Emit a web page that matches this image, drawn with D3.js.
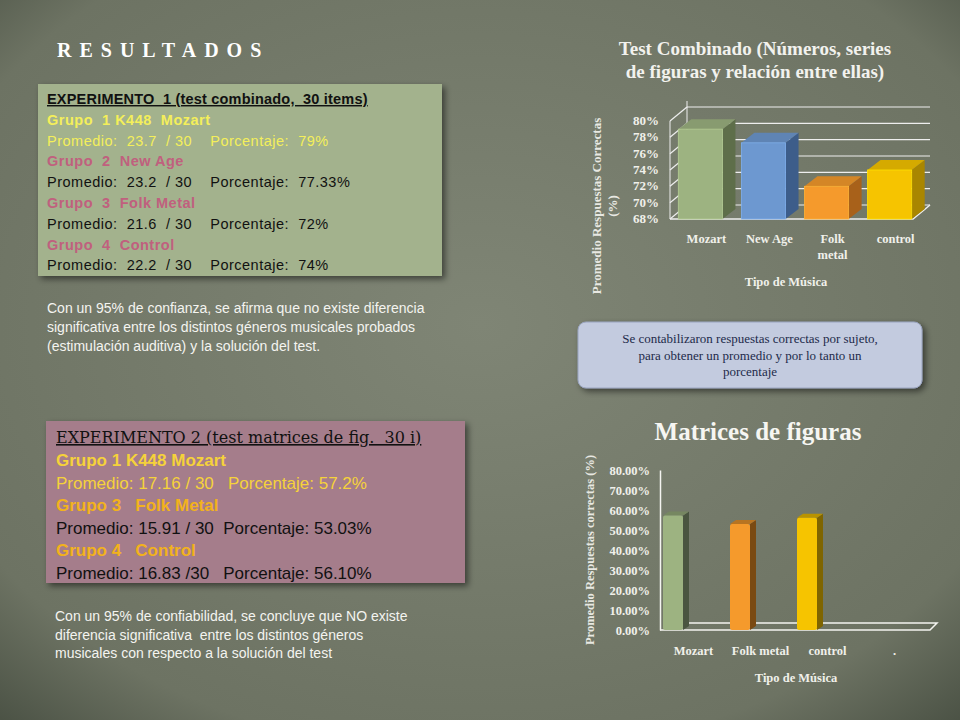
<!DOCTYPE html>
<html>
<head>
<meta charset="utf-8">
<script src="https://cdn.jsdelivr.net/npm/d3@7"></script>
<style>
  body { margin: 0; width: 960px; height: 720px; overflow: hidden; }
  svg text { font-family: 'Liberation Serif', 'DejaVu Serif', serif; }
  svg text.sans { font-family: 'Liberation Sans', Arial, sans-serif; }
  svg text.wide { font-family: 'DejaVu Serif', serif; }
</style>
</head>
<body>
<svg id="slide" width="960" height="720"></svg>
<script>
// top chart: Test Combinado
const comboCats = ['Mozart', 'New Age', 'Folk|metal', 'control'];
const comboValues = [79, 77.33, 72, 74];
const comboTicks = [68, 70, 72, 74, 76, 78, 80];
const comboColors = [['#9db381', '#5e6e4a'], ['#6d98d0', '#3d5d8a'], ['#f59a2c', '#a8611a'], ['#f6c400', '#a98600']];

// bottom chart: Matrices de figuras
const matCats = ['Mozart', 'Folk metal', 'control', '.'];
const matValues = [57.2, 53.03, 56.10, null];
const matTicks = [0, 10, 20, 30, 40, 50, 60, 70, 80];
const matColors = [['#9db381', '#4a5540'], ['#f59a2c', '#7a4a12'], ['#f6c400', '#7f6500'], ['#888', '#555']];

const exp1Lines = [
  { t: 'EXPERIMENTO  1 (test combinado,  30 items)', c: '#111', b: true, u: true },
  { t: 'Grupo  1 K448  Mozart', c: '#f4ef5a', b: true },
  { t: 'Promedio:  23.7  / 30    Porcentaje:  79%', c: '#f4ef5a' },
  { t: 'Grupo  2  New Age', c: '#c0607e', b: true },
  { t: 'Promedio:  23.2  / 30    Porcentaje:  77.33%', c: '#111' },
  { t: 'Grupo  3  Folk Metal', c: '#c0607e', b: true },
  { t: 'Promedio:  21.6  / 30    Porcentaje:  72%', c: '#111' },
  { t: 'Grupo  4  Control', c: '#c0607e', b: true },
  { t: 'Promedio:  22.2  / 30    Porcentaje:  74%', c: '#111' }
];
const exp2Lines = [
  { t: 'Grupo 1 K448 Mozart', c: '#f5d23a', b: true },
  { t: 'Promedio: 17.16 / 30   Porcentaje: 57.2%', c: '#f5d23a' },
  { t: 'Grupo 3   Folk Metal', c: '#f2b21c', b: true },
  { t: 'Promedio: 15.91 / 30  Porcentaje: 53.03%', c: '#111' },
  { t: 'Grupo 4   Control', c: '#f2b21c', b: true },
  { t: 'Promedio: 16.83 /30   Porcentaje: 56.10%', c: '#111' }
];

const svg = d3.select('#slide');
const defs = svg.append('defs');
const bg = defs.append('radialGradient').attr('id', 'bg').attr('cx', '50%').attr('cy', '45%').attr('r', '75%');
bg.append('stop').attr('offset', '0%').attr('stop-color', '#7f8575');
bg.append('stop').attr('offset', '80%').attr('stop-color', '#6d7363');
bg.append('stop').attr('offset', '100%').attr('stop-color', '#4a5144');
svg.append('rect').attr('width', 960).attr('height', 720).attr('fill', 'url(#bg)');
const sh = defs.append('filter').attr('id', 'shadow').attr('x', '-5%').attr('y', '-5%').attr('width', '115%').attr('height', '120%');
sh.append('feDropShadow').attr('dx', 3).attr('dy', 3).attr('stdDeviation', 3).attr('flood-opacity', 0.5);

// left column
svg.append('text').attr('x', 57).attr('y', 57).attr('fill', '#fff').attr('font-size', 20)
  .attr('font-weight', 'bold').attr('letter-spacing', 8).text('RESULTADOS');

svg.append('rect').attr('x', 38).attr('y', 84).attr('width', 404).attr('height', 192)
  .attr('fill', '#a3b28d').attr('filter', 'url(#shadow)');
exp1Lines.forEach((l, i) => {
  svg.append('text').attr('class', 'sans').attr('x', 47).attr('y', 104 + i * 20.8)
    .attr('font-size', 14.5).attr('fill', l.c).attr('font-weight', l.b ? 'bold' : null)
    .attr('letter-spacing', l.u ? 0.2 : 0.5)
    .attr('text-decoration', l.u ? 'underline' : null).style('white-space', 'pre').text(l.t);
});
['Con un 95% de confianza, se afirma que no existe diferencia',
 'significativa entre los distintos géneros musicales probados',
 '(estimulación auditiva) y la solución del test.'].forEach((t, i) => {
  svg.append('text').attr('class', 'sans').attr('x', 47).attr('y', 313 + i * 19)
    .attr('font-size', 14).attr('fill', '#f4f4f0').text(t);
});

svg.append('rect').attr('x', 46).attr('y', 421).attr('width', 419).attr('height', 162)
  .attr('fill', '#a57d8b').attr('filter', 'url(#shadow)');
svg.append('text').attr('class', 'wide').attr('x', 56).attr('y', 443).attr('font-size', 16).attr('fill', '#111')
  .attr('text-decoration', 'underline').style('white-space', 'pre').text('EXPERIMENTO 2 (test matrices de fig.  30 i)');
exp2Lines.forEach((l, i) => {
  svg.append('text').attr('class', 'sans').attr('x', 56).attr('y', 466 + i * 22.6)
    .attr('font-size', 17).attr('fill', l.c).attr('font-weight', l.b ? 'bold' : null)
    .style('white-space', 'pre').text(l.t);
});
['Con un 95% de confiabilidad, se concluye que NO existe',
 'diferencia significativa  entre los distintos géneros',
 'musicales con respecto a la solución del test'].forEach((t, i) => {
  svg.append('text').attr('class', 'sans').attr('x', 55).attr('y', 621 + i * 18.5)
    .attr('font-size', 14).attr('fill', '#f4f4f0').style('white-space', 'pre').text(t);
});

// ---- top chart ----
const dx = 17, dy = -14;
const x1 = d3.scaleBand().domain(comboCats).range([672, 918]).paddingInner(0.3).paddingOuter(0.1);
const y1 = d3.scaleLinear().domain([68, 80]).range([219, 121]);
const g1 = svg.append('g');
['Test Combinado (Números, series', 'de figuras y relación entre ellas)'].forEach((t, i) => {
  g1.append('text').attr('x', 755).attr('y', 55 + i * 23).attr('text-anchor', 'middle')
    .attr('font-size', 19).attr('font-weight', 'bold').attr('fill', '#f2f2ee').text(t);
});
comboTicks.forEach(t => {
  g1.append('line').attr('x1', 670 + dx).attr('x2', 930).attr('y1', y1(t) + dy).attr('y2', y1(t) + dy)
    .attr('stroke', '#eee').attr('stroke-width', 1.2);
  g1.append('line').attr('x1', 670).attr('x2', 670 + dx).attr('y1', y1(t)).attr('y2', y1(t) + dy)
    .attr('stroke', '#eee').attr('stroke-width', 1.2);
  g1.append('text').attr('x', 659).attr('y', y1(t) + 4).attr('text-anchor', 'end')
    .attr('font-size', 13).attr('font-weight', 'bold').attr('fill', '#f0f0ea').text(t + '%');
});
g1.append('line').attr('x1', 670).attr('x2', 670).attr('y1', y1(68)).attr('y2', y1(80)).attr('stroke', '#eee');
g1.append('line').attr('x1', 670 + dx).attr('x2', 670 + dx).attr('y1', y1(68) + dy).attr('y2', y1(80) + dy - 6).attr('stroke', '#eee');
g1.append('path').attr('d', `M670,${y1(68)}L913,${y1(68)}L930,${y1(68) + dy}`).attr('fill', 'none').attr('stroke', '#eee').attr('stroke-width', 1.5);
const bd = 13, bdy = -10;
comboValues.forEach((v, i) => {
  const x = x1(comboCats[i]), w = x1.bandwidth(), yt = y1(v), yb = y1(68);
  const [c, cd] = comboColors[i];
  g1.append('path').attr('d', `M${x + w},${yt}L${x + w + bd},${yt + bdy}L${x + w + bd},${yb + bdy}L${x + w},${yb}Z`).attr('fill', cd);
  g1.append('path').attr('d', `M${x},${yt}L${x + bd},${yt + bdy}L${x + w + bd},${yt + bdy}L${x + w},${yt}Z`).attr('fill', d3.color(c).darker(0.4));
  g1.append('rect').attr('x', x).attr('y', yt).attr('width', w).attr('height', yb - yt).attr('fill', c)
    .attr('stroke', d3.color(c).brighter(0.4)).attr('stroke-width', 0.8);
});
comboCats.forEach(c => {
  c.split('|').forEach((t, j) => {
    g1.append('text').attr('x', x1(c) + x1.bandwidth() / 2 + 6).attr('y', 243 + j * 16)
      .attr('text-anchor', 'middle').attr('font-size', 12.5).attr('font-weight', 'bold').attr('fill', '#f0f0ea').text(t);
  });
});
g1.append('text').attr('x', 786).attr('y', 286).attr('text-anchor', 'middle').attr('font-size', 12.5)
  .attr('font-weight', 'bold').attr('fill', '#f0f0ea').text('Tipo de Música');
['Promedio Respuestas Correctas', '(%)'].forEach((t, i) => {
  g1.append('text').attr('transform', `translate(${601 + i * 16},206) rotate(-90)`).attr('text-anchor', 'middle')
    .attr('font-size', 13).attr('font-weight', 'bold').attr('fill', '#e8e8e2').text(t);
});

// callout
svg.append('rect').attr('x', 578).attr('y', 322).attr('width', 344).attr('height', 66).attr('rx', 8)
  .attr('fill', '#c3cbdf').attr('stroke', '#9aa4c0').attr('filter', 'url(#shadow)');
['Se contabilizaron respuestas correctas por sujeto,', 'para obtener un promedio y por lo tanto un', 'porcentaje'].forEach((t, i) => {
  svg.append('text').attr('x', 750).attr('y', 343 + i * 16.5).attr('text-anchor', 'middle')
    .attr('font-size', 13).attr('fill', '#1d2a4a').text(t);
});

// ---- bottom chart ----
const x2 = d3.scaleBand().domain(matCats).range([660, 928]);
const y2 = d3.scaleLinear().domain([0, 80]).range([630, 470]);
const g2 = svg.append('g');
g2.append('text').attr('x', 758).attr('y', 440).attr('text-anchor', 'middle').attr('font-size', 25)
  .attr('font-weight', 'bold').attr('fill', '#f6f6f2').text('Matrices de figuras');
const yAxis = d3.axisLeft(y2).tickValues(matTicks).tickFormat(d => d.toFixed(2) + '%').tickSize(0).tickPadding(10);
const ya = g2.append('g').attr('transform', 'translate(660,0)').call(yAxis);
ya.select('.domain').attr('stroke', '#f4f4f0').attr('stroke-width', 1.5);
ya.selectAll('text').attr('font-size', 12.5).attr('font-weight', 'bold').attr('fill', '#f0f0ea');
g2.append('path').attr('d', `M660,630L930,630L937,623L668,623`).attr('fill', 'none').attr('stroke', '#f4f4f0').attr('stroke-width', 1.5);
matValues.forEach((v, i) => {
  if (v == null) return;
  const x = x2(matCats[i]) + 3, w = 20, yt = y2(v), yb = 630;
  const [c, cd] = matColors[i];
  g2.append('path').attr('d', `M${x + w},${yt}L${x + w + 6},${yt - 4}L${x + w + 6},${yb - 4}L${x + w},${yb}Z`).attr('fill', cd);
  g2.append('path').attr('d', `M${x},${yt}L${x + 6},${yt - 4}L${x + w + 6},${yt - 4}L${x + w},${yt}Z`).attr('fill', d3.color(c).darker(0.8));
  g2.append('rect').attr('x', x).attr('y', yt).attr('width', w).attr('height', yb - yt).attr('fill', c).attr('rx', 2);
});
matCats.forEach(c => {
  g2.append('text').attr('x', x2(c) + x2.bandwidth() / 2).attr('y', 655).attr('text-anchor', 'middle')
    .attr('font-size', 12.5).attr('font-weight', 'bold').attr('fill', '#f0f0ea').text(c);
});
g2.append('text').attr('x', 796).attr('y', 682).attr('text-anchor', 'middle').attr('font-size', 12.5)
  .attr('font-weight', 'bold').attr('fill', '#f0f0ea').text('Tipo de Música');
g2.append('text').attr('transform', 'translate(594,550) rotate(-90)').attr('text-anchor', 'middle')
  .attr('font-size', 12.5).attr('font-weight', 'bold').attr('fill', '#e8e8e2').text('Promedio Respuestas correctas (%)');
</script>
</body>
</html>
